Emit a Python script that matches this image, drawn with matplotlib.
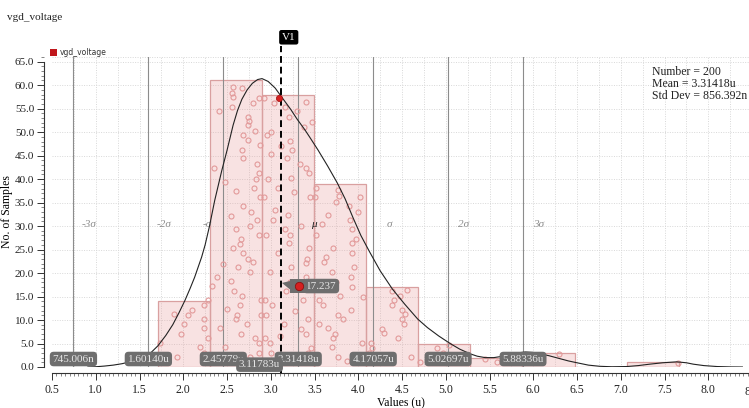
import numpy as np
import matplotlib.pyplot as plt
from matplotlib.ticker import MultipleLocator, FormatStrFormatter
from matplotlib.patches import Rectangle, Polygon
import matplotlib.transforms as mtransforms

plt.rcParams['font.family'] = ['Liberation Serif', 'DejaVu Serif']

# histogram of vgd_voltage (u)
bin_edges = [1.712, 2.307, 2.902, 3.497, 4.092, 4.687, 5.282, 5.877, 6.472, 7.067, 7.662]
counts = [14, 61, 58, 39, 17, 5, 2, 3, 0, 1]

n_samples = 200
mean_u = 3.31418
std_u = 0.856392
sigma_names = ['-3σ', '-2σ', '-σ', 'μ', 'σ', '2σ', '3σ']
sigma_values = ['745.006n', '1.60140u', '2.45779u', '3.31418u', '4.17057u', '5.02697u', '5.88336u']

cursor_x = 3.11783
cursor_label = '3.11783u'
cursor_hit = (3.09, 57.3)
marker_x = 3.32
marker_val = 17.237

# fitted density curve
curve_x = [0.91, 1.0, 1.1, 1.2, 1.3, 1.39, 1.5, 1.6, 1.71, 1.8, 1.88, 1.95, 2.02, 2.08, 2.13,
           2.21, 2.25, 2.30, 2.36, 2.44, 2.50, 2.57, 2.62, 2.67, 2.73, 2.79, 2.85, 2.90, 2.97,
           3.05, 3.12, 3.23, 3.30, 3.39, 3.45, 3.54, 3.65, 3.76, 3.85, 3.94, 4.03, 4.13, 4.25,
           4.39, 4.53, 4.68, 4.79, 4.92, 5.05, 5.16, 5.28, 5.36, 5.45, 5.55, 5.62, 5.72, 5.82,
           5.91, 6.0, 6.08, 6.18, 6.28, 6.40, 6.50, 6.63, 6.76, 6.90, 7.07, 7.20, 7.33, 7.48,
           7.64, 7.75, 7.83, 7.95, 8.1, 8.25, 8.39]
curve_y = [0.0, 0.05, 0.2, 0.4, 0.7, 1.1, 1.7, 2.5, 4.5, 6.7, 9.0, 11.5, 14.2, 16.8, 19.1,
           23.4, 26.0, 30.0, 35.5, 41.8, 46.1, 51.5, 54.6, 57.0, 59.0, 60.4, 61.2, 61.4, 60.8,
           59.4, 57.6, 54.8, 52.8, 50.5, 48.8, 46.2, 42.8, 39.2, 35.8, 31.8, 28.0, 24.5, 20.5,
           16.6, 13.4, 10.2, 8.4, 6.6, 5.0, 3.8, 2.8, 2.3, 2.0, 2.0, 2.2, 2.6, 3.0,
           3.2, 3.1, 2.8, 2.4, 1.9, 1.3, 0.9, 0.4, 0.15, 0.05, 0.1, 0.3, 0.6, 0.9,
           1.1, 0.9, 0.6, 0.3, 0.1, 0.02, 0.0]

# individual samples, spread vertically inside their bins
pts_bin1 = [(1.89, 11.3), (2.01, 9.1), (2.10, 12.1), (2.24, 13.2), (2.24, 10.2), (2.24, 8.3),
            (1.97, 7.0), (1.73, 5.1), (2.19, 4.2), (2.24, 3.0), (1.93, 2.1), (2.28, 6.2),
            (2.28, 14.2), (2.05, 11.0)]
pts_bin2 = [(2.57, 59.6), (2.56, 58.4), (2.57, 57.4), (2.67, 59.3), (2.41, 54.4), (2.56, 55.4),
            (2.80, 56.3), (2.87, 57.3), (2.74, 53.3), (2.75, 52.4), (2.74, 51.6), (2.82, 50.3),
            (2.68, 49.3), (2.74, 48.4), (2.88, 47.3), (2.67, 46.3), (2.68, 44.4), (2.35, 42.3),
            (2.84, 43.3), (2.48, 39.3), (2.87, 41.2), (2.83, 40.1), (2.81, 38.2), (2.60, 37.4),
            (2.88, 36.1), (2.68, 34.2), (2.77, 33.1), (2.55, 32.1), (2.84, 31.2), (2.76, 30.1),
            (2.60, 29.3), (2.87, 28.2), (2.66, 27.2), (2.65, 26.1), (2.57, 25.3), (2.68, 24.2),
            (2.74, 23.1), (2.80, 22.3), (2.62, 21.2), (2.76, 20.2), (2.39, 19.1), (2.55, 18.3),
            (2.33, 17.2), (2.58, 16.1), (2.67, 15.1), (2.89, 14.2), (2.65, 13.2), (2.50, 12.3),
            (2.61, 11.0), (2.89, 11.0), (2.60, 10.2), (2.73, 9.1), (2.42, 8.3), (2.66, 7.0),
            (2.82, 6.2), (2.87, 5.1), (2.48, 4.2), (2.76, 2.1), (2.87, 3.0), (2.43, 2.5),
            (2.45, 22.0)]
pts_bin3 = [(2.92, 57.3), (3.40, 56.4), (3.16, 55.4), (3.04, 56.3), (3.30, 54.4), (3.21, 53.3),
            (3.00, 50.1), (2.96, 49.3), (3.22, 48.2), (3.24, 46.3), (3.00, 45.4), (3.19, 44.4),
            (3.33, 43.3), (3.40, 42.3), (3.44, 41.2), (3.23, 40.3), (3.08, 38.2), (3.26, 37.2),
            (2.92, 36.1), (3.45, 36.1), (3.03, 31.2), (3.20, 32.3), (2.94, 28.2), (3.16, 29.3),
            (3.22, 28.2), (3.21, 26.3), (3.08, 24.2), (3.44, 25.3), (3.41, 23.1), (3.40, 22.1),
            (3.23, 21.2), (2.99, 20.2), (3.22, 18.0), (3.40, 19.1), (3.17, 16.1), (2.93, 14.2),
            (3.01, 13.2), (3.37, 14.2), (2.94, 11.0), (3.43, 10.2), (3.15, 9.1), (3.35, 8.1),
            (3.40, 7.0), (2.93, 6.2), (2.99, 5.1), (3.46, 4.0), (3.00, 3.0), (3.22, 2.1),
            (3.43, 3.0), (3.05, 33.5), (3.35, 30.0), (3.12, 47.0), (3.28, 12.0), (3.10, 6.5),
            (3.46, 17.0), (2.97, 40.0), (3.38, 51.0), (3.47, 52.2)]
pts_bin4 = [(3.52, 38.2), (3.50, 36.3), (3.77, 37.6), (3.75, 35.2), (3.78, 36.4), (4.02, 36.3),
            (4.00, 33.1), (3.89, 34.2), (3.91, 31.2), (3.93, 29.3), (3.65, 32.3), (3.52, 28.2),
            (3.97, 27.2), (3.93, 26.3), (3.71, 25.3), (3.93, 24.2), (3.63, 23.4), (3.61, 22.3),
            (3.95, 21.2), (3.70, 20.2), (3.92, 19.1), (3.75, 18.0), (3.93, 17.0), (3.55, 14.2),
            (3.60, 13.2), (3.79, 15.1), (3.92, 12.1), (3.77, 11.0), (3.83, 10.2), (3.55, 9.1),
            (3.65, 8.3), (3.73, 7.0), (3.71, 6.2), (3.70, 4.2), (4.04, 5.1), (3.77, 2.1),
            (3.58, 30.5), (4.05, 15.0), (3.87, 1.2)]
pts_bin5 = [(4.56, 16.4), (4.39, 16.1), (4.48, 15.1), (4.41, 14.2), (4.39, 13.2), (4.50, 12.1),
            (4.53, 11.3), (4.50, 10.2), (4.52, 9.1), (4.27, 8.1), (4.29, 7.2), (4.45, 6.2),
            (4.15, 5.1), (4.16, 4.0), (4.60, 2.1), (4.12, 3.0), (4.35, 2.5)]
pts_bin6 = [(4.70, 1.1), (4.90, 4.0), (4.97, 3.0), (5.04, 4.6), (5.15, 2.0)]
pts_bin7 = [(5.59, 1.0), (5.45, 1.6)]
pts_bin8 = [(6.10, 2.1), (6.29, 2.8), (5.95, 1.2)]
pts_bin10 = [(7.65, 0.9)]

samples = pts_bin1 + pts_bin2 + pts_bin3 + pts_bin4 + pts_bin5 + pts_bin6 + pts_bin7 + pts_bin8 + pts_bin10
sample_x = [p[0] for p in samples]
sample_y = [p[1] for p in samples]

W, H = 749, 408
fig = plt.figure(figsize=(W / 100, H / 100), dpi=100)
ax = fig.add_axes([52 / W, 41 / H, 697 / W, 310 / H])
x_right = 0.5 + 697 / 87.5
ax.set_xlim(0.5, x_right)
ax.set_ylim(0, 66)

# dotted background grid
ax.vlines(np.arange(0.75, x_right, 0.25), 0, 66, colors='#d8d8d8', linestyles=(0, (1, 1.5)), lw=0.7, zorder=0)
ax.hlines(np.arange(5, 66, 5), 0.5, x_right, colors='#d8d8d8', linestyles=(0, (1, 1.5)), lw=0.7, zorder=0)
ax.axhline(66, color='#d8d8d8', ls=(0, (1, 1.5)), lw=0.7, zorder=0)

# histogram bars
widths = np.diff(bin_edges)
ax.bar(bin_edges[:-1], counts, width=widths, align='edge',
       facecolor=(0.91, 0.60, 0.60, 0.28), edgecolor='#d9a0a0', lw=0.9, zorder=2)

# sigma lines and their labels
sig_pos = [mean_u + k * std_u for k in range(-3, 4)]
for i, xs in enumerate(sig_pos):
    ax.axvline(xs, color='#8c8c8c', lw=0.8, zorder=3)
    tx = xs - 0.18 if sigma_names[i] == '-σ' else xs + 0.18
    col = '#222222' if sigma_names[i] == 'μ' else '#8c8c8c'
    ax.text(tx, 30.3, sigma_names[i], ha='center', va='center', fontsize=8,
            style='italic', color=col, zorder=4)
    ax.text(xs, 1.7, sigma_values[i], ha='center', va='center', fontsize=8, color='#e6e6e6',
            zorder=8, clip_on=False,
            bbox=dict(boxstyle='round,pad=0.25,rounding_size=0.35', fc='#6e6e6e', ec='none'))

# samples
ax.plot(sample_x, sample_y, 'o', ms=3.6, mfc='none', mec='#e29a9a', mew=0.8, zorder=4)

# density curve
ax.plot(curve_x, curve_y, color='#222222', lw=0.8, zorder=5)

# cursor V1
ax.plot([cursor_x, cursor_x], [-1.3, 68.3], color='black', lw=1.4, ls=(0, (3.5, 2)),
        zorder=7, clip_on=False)
ax.text(cursor_x + 0.01, 70.2, 'V1', ha='left', va='center', fontsize=8, color='white',
        zorder=9, clip_on=False,
        bbox=dict(boxstyle='round,pad=0.25,rounding_size=0.2', fc='black', ec='none'))
ax.text(cursor_x - 0.01, 0.5, cursor_label, ha='right', va='center', fontsize=8, color='#e6e6e6',
        zorder=9, clip_on=False,
        bbox=dict(boxstyle='round,pad=0.25,rounding_size=0.35', fc='#6e6e6e', ec='none'))
ax.plot(*cursor_hit, 'o', ms=4.5, color='#d62020', mec='#a01010', mew=0.5, zorder=9)

# value readout at the cursor
ax.add_patch(Polygon([(cursor_x + 0.01, 17.9), (3.24, 18.4), (3.24, 16.2)], closed=True,
                     fc='#6e6e6e', ec='none', zorder=8))
ax.text(3.40, marker_val, f'{marker_val:.3f}', ha='left', va='center', fontsize=8, color='#e6e6e6',
        zorder=8, bbox=dict(boxstyle='round,pad=0.25,rounding_size=0.35', fc='#6e6e6e', ec='none'))
ax.add_patch(Rectangle((3.22, 15.8), 0.2, 2.9, fc='#6e6e6e', ec='none', zorder=8))
ax.plot(marker_x, marker_val, 'o', ms=6, color='#d62020', mec='#8c1010', mew=0.6, zorder=10)

# statistics box
stats = [f'Number = {n_samples}', f'Mean = {mean_u:.5f}u', 'Std Dev = 856.392n']
for i, s in enumerate(stats):
    fig.text(652 / W, 1 - (72 + 12 * i) / H, s, ha='left', va='center', fontsize=8.5, color='#222222')

# axes styling
for side in ['top', 'right']:
    ax.spines[side].set_visible(False)
ax.spines['left'].set_position(('outward', 5.8))
ax.spines['bottom'].set_position(('outward', 4.3))
ax.spines['left'].set_bounds(0, 65)
ax.spines['bottom'].set_bounds(0.5, x_right)
for side in ['left', 'bottom']:
    ax.spines[side].set_color('#333333')
    ax.spines[side].set_linewidth(0.8)

ax.xaxis.set_major_locator(MultipleLocator(0.5))
ax.xaxis.set_minor_locator(MultipleLocator(0.05))
ax.yaxis.set_major_locator(MultipleLocator(5))
ax.yaxis.set_minor_locator(MultipleLocator(1))
ax.xaxis.set_major_formatter(FormatStrFormatter('%.1f'))
ax.yaxis.set_major_formatter(FormatStrFormatter('%.1f'))
ax.set_yticks(np.arange(0, 66, 5))
ax.tick_params(which='major', length=5, width=0.7, color='#333333', labelsize=8.5,
               labelcolor='#222222', pad=3)
ax.tick_params(axis='y', which='major', labelsize=8, pad=2)
ax.tick_params(which='minor', length=2.5, width=0.5, color='#555555')

# tick label for 8.5 sits at the edge of the canvas
trans = mtransforms.blended_transform_factory(ax.transData, ax.transAxes)
ax.text(8.5, -0.082, '8.5', transform=trans, ha='center', va='center', fontsize=8.5,
        color='#222222', clip_on=False)

ax.set_xlabel('Values (u)', fontsize=8.5)
ax.xaxis.set_label_coords((401 - 52) / 697, -29 / 310)
ax.set_ylabel('No. of Samples', fontsize=8.5)
ax.yaxis.set_label_coords(-39 / 697, 0.5)

# title and legend
fig.text(7 / W, 1 - 17 / H, 'vgd_voltage', ha='left', va='center', fontsize=8, color='#222222')
fig.add_artist(Rectangle((50 / W, 1 - 56 / H), 7 / W, 7 / H, transform=fig.transFigure,
                         fc='#c0171c', ec='none'))
fig.text(60 / W, 1 - 52.5 / H, 'vgd_voltage', ha='left', va='center', fontsize=5.5,
         family='DejaVu Sans', color='#333333')

fig.savefig('out.png', dpi=100)
